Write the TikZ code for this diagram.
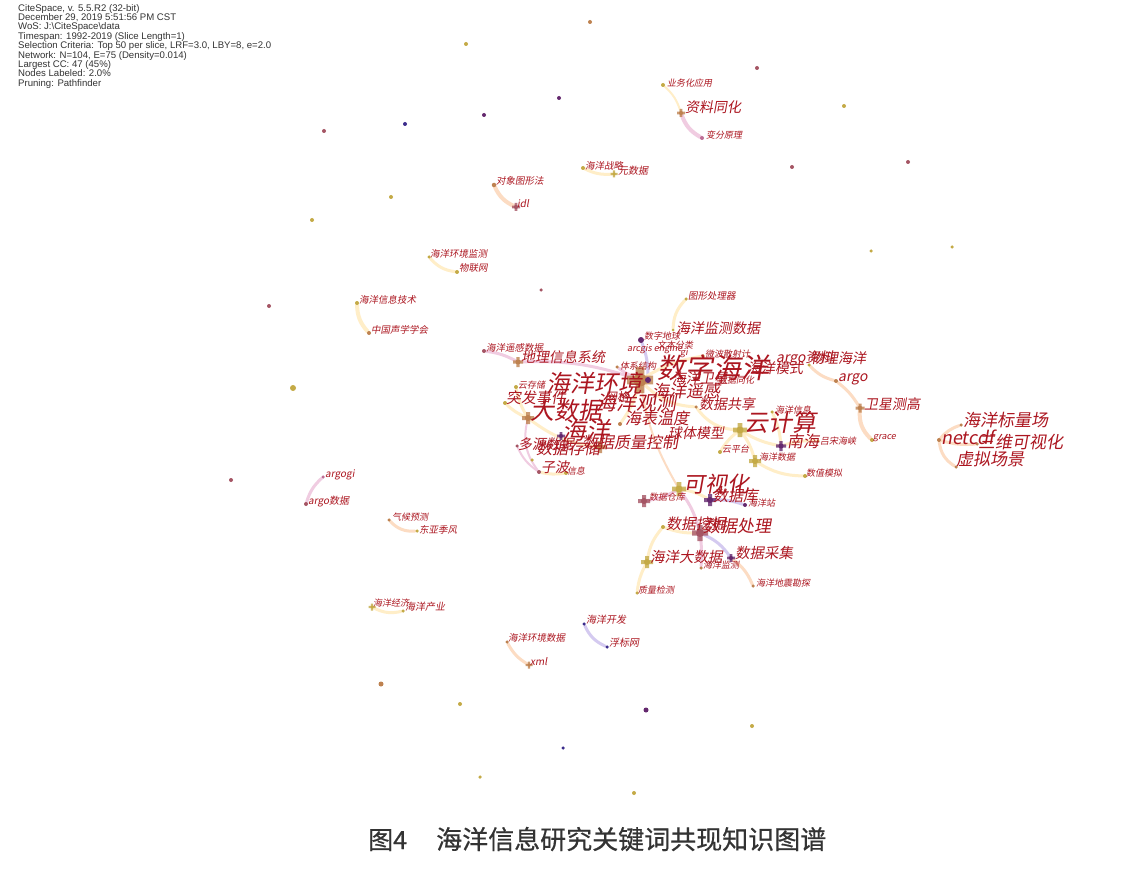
\documentclass[tikz,border=0pt]{standalone}
\usepackage{fontspec}
\newfontfamily\cjk{Noto Sans CJK SC}[FakeSlant=0.18]
\newfontfamily\capfont{Noto Sans CJK SC}[FakeBold=0.6]
\newfontfamily\hdr{Liberation Sans}
\definecolor{kwred}{RGB}{172,22,32}
\definecolor{olv}{RGB}{196,170,70}
\definecolor{brn}{RGB}{190,130,80}
\definecolor{mrn}{RGB}{165,85,100}
\definecolor{prp}{RGB}{100,40,110}
\definecolor{dbl}{RGB}{60,45,140}
\definecolor{pnk}{RGB}{190,110,150}
\definecolor{eY}{RGB}{255,238,200}
\definecolor{eO}{RGB}{252,220,195}
\definecolor{eP}{RGB}{240,204,225}
\definecolor{eL}{RGB}{212,202,240}
\pgfdeclarelayer{bg}
\pgfsetlayers{bg,main}
\tikzset{
  kwl/.style={anchor=west, inner sep=0pt, text=kwred},
  dotnode/.style={circle, inner sep=0pt, draw=none},
  edg/.style={line width=3pt, draw=#1, line cap=round},
}
\newcommand\kw[5]{\node[kwl, font=\cjk\fontsize{#4}{#4}\selectfont] (#1) at (#2,#3) {#5};}
\newcommand\mk[5]{\node[dotnode, fill=#4, minimum size=#5 pt] (#1) at (#2,#3) {};}
\newcommand\cx[5]{\node[dotnode, fill=#4, minimum size=#5 pt] (#1) at (#2,#3) {};
  \fill[#4, opacity=.8] (#1.center) +(-#5,{-#5/3}) rectangle +(#5,{#5/3}) +({-#5/3},-#5) rectangle +({#5/3},#5);}
\begin{document}
\begin{tikzpicture}[x=1pt,y=-1pt]
\useasboundingbox (0,0) rectangle (1123,890);
% header
\node[anchor=north west, inner sep=0pt, align=left, text=black!80,
  font=\hdr\fontsize{9.6}{9.4}\selectfont] (hdr) at (18,4) {CiteSpace, v. 5.5.R2 (32-bit)\\
December 29, 2019 5:51:56 PM CST\\
WoS: J:\textbackslash CiteSpace\textbackslash data\\
Timespan: 1992-2019 (Slice Length=1)\\
Selection Criteria: Top 50 per slice, LRF=3.0, LBY=8, e=2.0\\
Network: N=104, E=75 (Density=0.014)\\
Largest CC: 47 (45\%)\\
Nodes Labeled: 2.0\%\\
Pruning: Pathfinder};
% isolated nodes
\mk{i1}{590}{22}{brn}{4}
\mk{i2}{466}{44}{olv}{4}
\mk{i3}{757}{68}{mrn}{4}
\mk{i4}{844}{106}{olv}{4}
\mk{i5}{559}{98}{prp}{4}
\mk{i6}{484}{115}{prp}{4}
\mk{i7}{405}{124}{dbl}{4}
\mk{i8}{324}{131}{mrn}{4}
\mk{i9}{792}{167}{mrn}{4}
\mk{i10}{908}{162}{mrn}{4}
\mk{i11}{391}{197}{olv}{4}
\mk{i12}{312}{220}{olv}{4}
\mk{i13}{871}{251}{olv}{3.5}
\mk{i14}{952}{247}{olv}{3.5}
\mk{i15}{541}{290}{mrn}{3.5}
\mk{i16}{269}{306}{mrn}{4}
\mk{i17}{293}{388}{olv}{6}
\mk{i18}{231}{480}{mrn}{4}
\mk{i19}{381}{684}{brn}{5}
\mk{i20}{460}{704}{olv}{4}
\mk{i21}{646}{710}{prp}{5}
\mk{i22}{752}{726}{olv}{4}
\mk{i23}{563}{748}{dbl}{3.5}
\mk{i24}{480}{777}{olv}{3.5}
\mk{i25}{634}{793}{olv}{4}
% small clusters
\mk{myw}{663}{85}{olv}{4}
\cx{mzl}{681}{113}{brn}{4}
\mk{mbf}{702}{138}{pnk}{4}
\kw{lyw}{667}{83}{9}{业务化应用}
\kw{lzl}{685}{107}{14}{资料同化}
\kw{lbf}{706}{135}{9}{变分原理}
\mk{mzlue}{583}{168}{olv}{4}
\cx{myuan}{614}{174}{olv}{3.5}
\kw{lzlue}{585}{166}{9.5}{海洋战略}
\kw{lyuan}{618}{171}{10}{元数据}
\mk{mdx}{494}{185}{brn}{4.5}
\cx{midl}{516}{207}{mrn}{4}
\kw{ldx}{496}{181}{9.5}{对象图形法}
\kw{lidl}{517}{204}{10}{idl}
\mk{mhjjc}{429}{257}{olv}{3.5}
\mk{mwlw}{457}{272}{olv}{4}
\kw{lhjjc}{430}{254}{9.5}{海洋环境监测}
\kw{lwlw}{459}{268}{9.5}{物联网}
\mk{mxxjs}{357}{303}{olv}{4}
\mk{msxxh}{369}{333}{brn}{4}
\kw{lxxjs}{359}{300}{9.5}{海洋信息技术}
\kw{lsxxh}{371}{330}{9.5}{中国声学学会}
\mk{margogi}{323}{477}{pnk}{3.5}
\mk{margosj}{306}{504}{mrn}{4}
\kw{largogi}{325}{475}{10}{argogi}
\kw{largosj}{308}{502}{10}{argo数据}
\mk{mqhyc}{389}{520}{brn}{3.5}
\mk{mdyjf}{417}{531}{olv}{3.5}
\kw{lqhyc}{392}{517}{9}{气候预测}
\kw{ldyjf}{419}{530}{9.5}{东亚季风}
\cx{mhyjj}{372}{607}{olv}{3.5}
\mk{mhycy}{403}{611}{olv}{3.5}
\kw{lhyjj}{373}{603}{9}{海洋经济}
\kw{lhycy}{405}{607}{10}{海洋产业}
\mk{mhjsj}{507}{642}{brn}{3.5}
\cx{mxml}{529}{665}{brn}{3.5}
\kw{lhjsj}{508}{638}{9.5}{海洋环境数据}
\kw{lxml}{530}{662}{10}{xml}
\mk{mkf}{584}{624}{dbl}{3.5}
\mk{mfbw}{607}{647}{dbl}{3.5}
\kw{lkf}{586}{620}{10}{海洋开发}
\kw{lfbw}{609}{643}{10}{浮标网}
% netcdf cluster
\mk{mnet}{939}{440}{brn}{4}
\mk{mblc}{961}{425}{brn}{3.5}
\mk{msw}{977}{444}{brn}{3.5}
\mk{mxn}{956}{467}{brn}{3.5}
\kw{lblc}{963}{420}{17}{海洋标量场}
\kw{lnet}{941}{437}{18}{netcdf}
\kw{lsw}{978}{442}{17}{三维可视化}
\kw{lxn}{956}{459}{17}{虚拟场景}
% right part
\mk{mgrace}{872}{440}{olv}{4}
\cx{mwxcg}{860}{408}{brn}{4.5}
\mk{margo}{836}{381}{brn}{4}
\mk{margozl}{809}{365}{olv}{3.5}
\kw{lgrace}{873}{438}{9}{grace}
\kw{lwxcg}{864}{404}{14}{卫星测高}
\kw{largo}{838}{379}{14}{argo}
\kw{largozl}{776}{358}{14}{argo资料}
\kw{lwlhy}{810}{358}{14}{物理海洋}
% central markers
\cx{mhub}{640}{380}{brn}{13}
\mk{mhubc}{648}{380}{prp}{6}
\mk{mtx}{686}{299}{olv}{3.5}
\mk{mjcsj}{673}{330}{olv}{3}
\mk{mszdq}{641}{340}{prp}{6}
\cx{mdl}{518}{362}{brn}{5}
\mk{myg}{484}{351}{mrn}{4}
\mk{myuncc}{516}{387}{olv}{4}
\mk{mtf}{505}{403}{olv}{4}
\cx{mdsj}{528}{418}{brn}{6}
\cx{msjzl}{600}{447}{brn}{6}
\mk{mdy}{517}{446}{mrn}{3.5}
\mk{msjcc}{532}{460}{olv}{3.5}
\mk{mzb}{539}{472}{mrn}{4}
\mk{mxx}{566}{473}{olv}{4}
\cx{mhy}{561}{436}{prp}{4}
\mk{mhb}{620}{424}{brn}{4}
\mk{msjgx}{696}{407}{brn}{3.5}
\cx{myjs}{740}{430}{olv}{7}
\cx{mnh}{781}{446}{prp}{5}
\mk{mhyxx}{772}{412}{olv}{3.5}
\mk{mls}{818}{441}{olv}{3}
\mk{mypt}{720}{452}{olv}{4}
\cx{mhysj}{755}{461}{olv}{6}
\mk{mszmn}{805}{476}{olv}{4}
\mk{mwb}{703}{356}{olv}{3.5}
\mk{mtxjg}{617}{367}{brn}{3.5}
\cx{msjck}{644}{501}{mrn}{6}
\cx{mksh}{679}{489}{olv}{7}
\cx{msjk}{710}{500}{prp}{6}
\mk{mhyz}{745}{505}{prp}{4}
\mk{msjwj}{663}{527}{olv}{4}
\cx{msjcl}{700}{533}{mrn}{8}
\cx{mhydsj}{647}{562}{olv}{6}
\cx{msjcj}{731}{558}{prp}{4}
\mk{mhyjc}{701}{568}{brn}{3.5}
\mk{mdz}{753}{586}{brn}{3.5}
\mk{mzljc}{637}{593}{olv}{3.5}
% central labels
\kw{ltx}{688}{296}{9.5}{图形处理器}
\kw{ljcsj}{676}{328}{14}{海洋监测数据}
\kw{lszdq}{644}{336}{9}{数字地球}
\kw{larc}{627}{349}{9}{arcgis engine}
\kw{lwbfl}{657}{345}{9}{文本分类}
\kw{lgi}{680}{353}{9}{gi}
\kw{lwb}{705}{354}{9}{微波散射计}
\kw{ltxjg}{620}{366}{9}{体系结构}
\kw{lsjth}{718}{380}{9}{数据同化}
\kw{lyg}{486}{348}{9.5}{海洋遥感数据}
\kw{ldl}{521}{357}{14}{地理信息系统}
\kw{lyuncc}{518}{385}{9}{云存储}
\kw{ltf}{506}{398}{15}{突发事件}
\kw{lhyms}{747}{368}{14}{海洋模式}
\kw{lhywx}{672}{378}{14}{海洋卫星}
\kw{lszhy}{657}{368}{28}{数字海洋}
\kw{lhyhj}{546}{383}{24}{海洋环境}
\kw{lwg}{605}{397}{12}{网格}
\kw{lhygc}{596}{403}{20}{海洋观测}
\kw{lhyyg}{652}{391}{17}{海洋遥感}
\kw{ldsj}{530}{410}{24}{大数据}
\kw{lsjgx}{699}{404}{14}{数据共享}
\kw{lhb}{625}{418}{16}{海表温度}
\kw{lqt}{668}{433}{14}{球体模型}
\kw{lhy}{562}{430}{24}{海洋}
\kw{ldy}{518}{444}{14}{多源数据}
\kw{lsjcc}{536}{448}{16}{数据存储}
\kw{lsjzl}{582}{442}{16}{数据质量控制}
\kw{lzb}{541}{467}{14}{子波}
\kw{lxx}{567}{471}{9}{信息}
\kw{lyjs}{744}{422}{24}{云计算}
\kw{lhyxx}{775}{410}{9}{海洋信息}
\kw{lnh}{787}{441}{16}{南海}
\kw{lls}{820}{441}{9}{吕宋海峡}
\kw{lypt}{722}{449}{9}{云平台}
\kw{lhysj}{759}{457}{9}{海洋数据}
\kw{lszmn}{806}{473}{9}{数值模拟}
\kw{lksh}{683}{484}{22}{可视化}
\kw{lsjck}{649}{497}{9}{数据仓库}
\kw{lsjk}{713}{496}{15}{数据库}
\kw{lhyz}{748}{503}{9}{海洋站}
\kw{lsjwj}{666}{524}{15}{数据挖掘}
\kw{lsjcl}{703}{526}{17}{数据处理}
\kw{lhydsj}{650}{557}{14.5}{海洋大数据}
\kw{lsjcj}{735}{553}{14.5}{数据采集}
\kw{lhyjc}{703}{565}{9}{海洋监测}
\kw{ldz}{756}{583}{9}{海洋地震勘探}
\kw{lzljc}{638}{590}{9}{质量检测}
% caption
\node[anchor=base west, inner sep=0pt, font=\capfont\fontsize{25}{25}\selectfont, text=black!80] (cap1) at (368,849) {图4};
\node[anchor=base west, inner sep=0pt, font=\capfont\fontsize{26}{26}\selectfont, text=black!80] (cap2) at (436,849) {海洋信息研究关键词共现知识图谱};
% edges
\begin{pgfonlayer}{bg}
\fill[white] (0,0) rectangle (1123,890);
\draw[edg=eY, line width=2pt] (myw) to[bend left=15] (mzl);
\draw[edg=eP, line width=4pt] (mzl) to[bend right=20] (mbf);
\draw[edg=eY] (mzlue) to[bend right=15] (myuan);
\draw[edg=eO, line width=4pt] (mdx) to[bend right=20] (midl);
\draw[edg=eY] (mhjjc) to[bend right=20] (mwlw);
\draw[edg=eY, line width=4pt] (mxxjs) to[bend right=20] (msxxh);
\draw[edg=eP] (margogi) to[bend right=15] (margosj);
\draw[edg=eO] (mqhyc) to[bend right=25] (mdyjf);
\draw[edg=eY] (mhyjj) to[bend right=20] (mhycy);
\draw[edg=eO] (mhjsj) to[bend right=15] (mxml);
\draw[edg=eL] (mkf) to[bend right=20] (mfbw);
\draw[edg=eO] (mnet) to[bend left=15] (mblc);
\draw[edg=eO] (mnet) to[bend right=10] (msw);
\draw[edg=eO] (mnet) to[bend right=25] (mxn);
\draw[edg=eO, line width=4pt] (mwxcg) to[bend right=25] (mgrace);
\draw[edg=eO] (margo) to[bend left=10] (mwxcg);
\draw[edg=eO] (margozl) to[bend right=15] (margo);
\draw[edg=eY] (mtx) to[bend right=20] (mjcsj);
\draw[edg=eP] (myg) to[bend left=10] (mdl);
\draw[edg=eP] (mdl) to[bend left=10] (mhub);
\draw[edg=eL] (mszdq) to[bend left=10] (mhubc);
\draw[edg=eY] (mtf) to[bend right=10] (mdsj);
\draw[edg=eY] (myuncc) to[bend right=10] (mdsj);
\draw[edg=eY] (mdsj) to[bend right=15] (msjzl);
\draw[edg=eP, line width=2pt] (mdsj) to[bend right=25] (mzb);
\draw[edg=eP, line width=2pt] (mdy) to[bend right=15] (mzb);
\draw[edg=eY] (mzb) to[bend right=10] (mxx);
\draw[edg=eY] (mhub) to[bend left=10] (mhb);
\draw[edg=eY] (mhub) to[bend right=20] (msjgx);
\draw[edg=eY] (msjgx) to[bend right=25] (myjs);
\draw[edg=eY] (myjs) to[bend right=10] (mnh);
\draw[edg=eY] (myjs) to[bend right=10] (mypt);
\draw[edg=eY] (myjs) to[bend left=10] (mhysj);
\draw[edg=eY] (mnh) to[bend left=10] (mls);
\draw[edg=eY] (mnh) to[bend right=10] (mhyxx);
\draw[edg=eY] (mhysj) to[bend right=15] (mszmn);
\draw[edg=eO, line width=2pt] (mhub) to[bend right=10] (mksh);
\draw[edg=eP] (mksh) to[bend left=10] (msjck);
\draw[edg=eY] (mksh) to[bend left=10] (msjk);
\draw[edg=eL] (msjk) to[bend left=10] (mhyz);
\draw[edg=eP] (mksh) to[bend left=10] (msjcl);
\draw[edg=eY] (msjcl) to[bend left=10] (msjwj);
\draw[edg=eY] (msjwj) to[bend right=15] (mhydsj);
\draw[edg=eY] (mhydsj) to[bend right=10] (mzljc);
\draw[edg=eL] (msjcl) to[bend left=15] (msjcj);
\draw[edg=eO] (msjcj) to[bend left=15] (mdz);
\draw[edg=eP] (msjcl) to[bend left=5] (mhyjc);
\draw[edg=eP] (mhub) to[bend left=5] (mtxjg);
\draw[edg=eY] (mhub) to[bend left=10] (mwb);
\end{pgfonlayer}
\end{tikzpicture}
\end{document}
